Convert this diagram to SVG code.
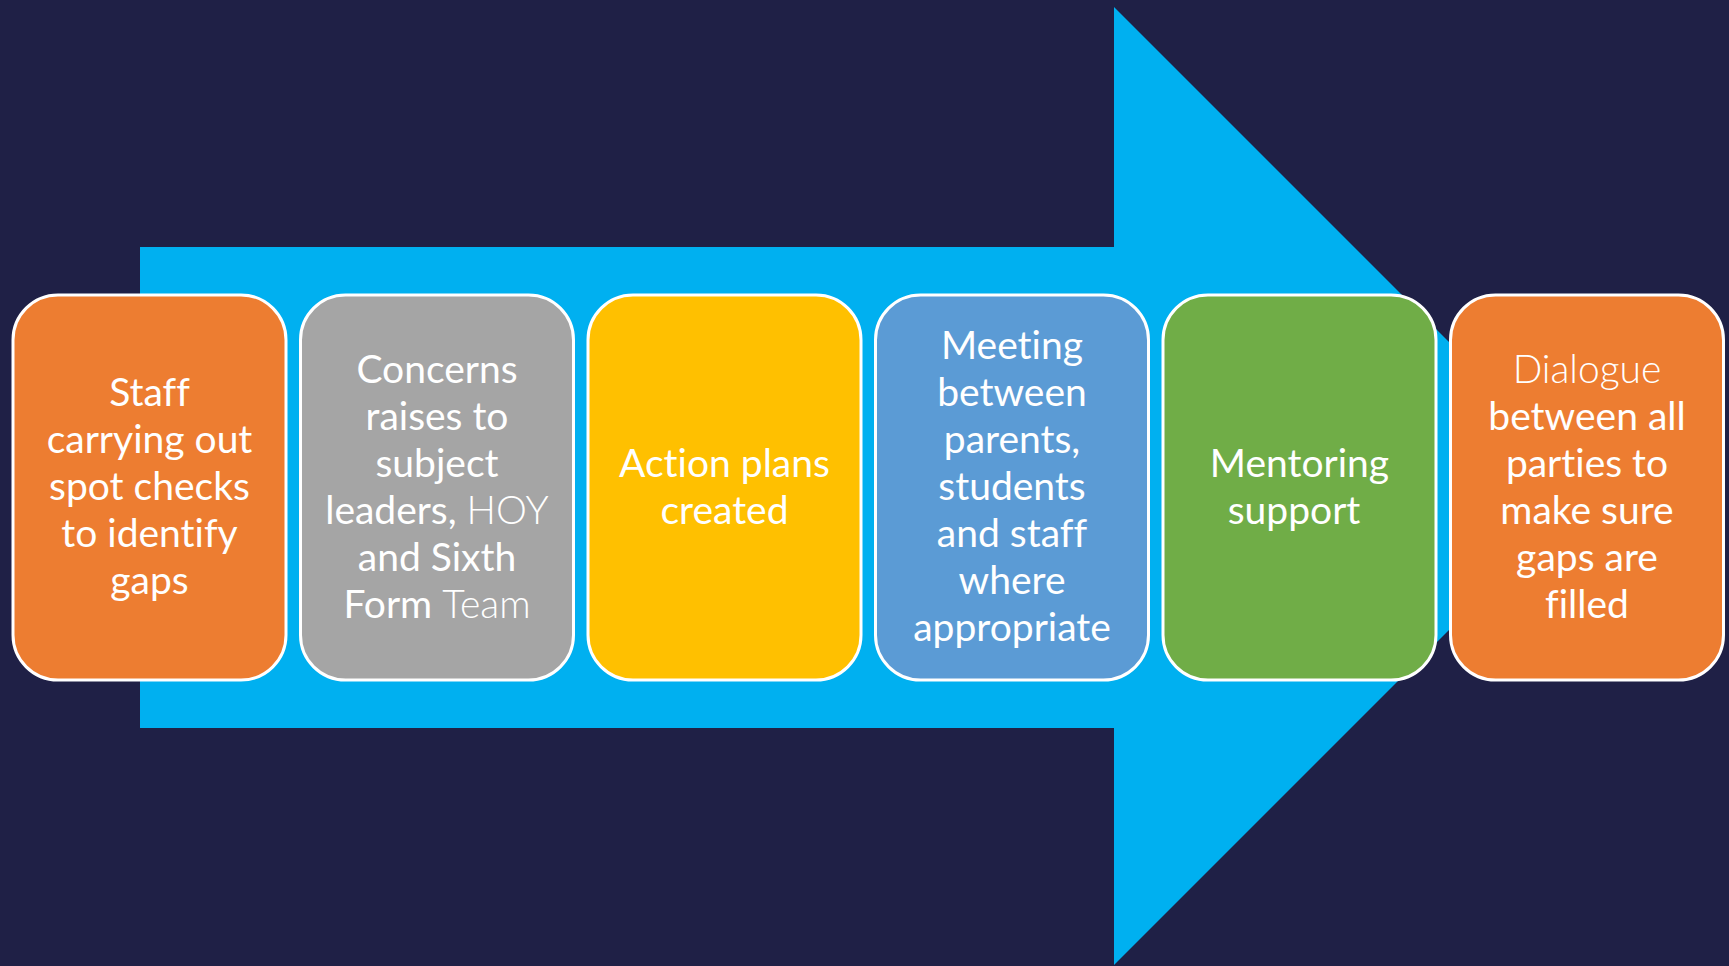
<svg xmlns="http://www.w3.org/2000/svg" width="1729" height="966" viewBox="0 0 1729 966">
<style>
.box{stroke:#FFFFFF;stroke-width:3}
.t{font-family:Lato,"Open Sans","Liberation Sans",sans-serif;font-size:39px;fill:#FFFFFF;text-anchor:middle;font-variant-ligatures:none;font-feature-settings:"liga" 0}
.l{font-weight:300}
</style>
<rect x="0" y="0" width="1729" height="966" fill="#1F2046"/>
<g id="arrow">
<polygon points="140,247 1114,247 1114,7 1593,486 1114,965 1114,728 140,728" fill="#00B0F0"/>
</g>
<g id="connectors"></g>
<g id="n1">
<rect class="box" x="13" y="295" width="273" height="385" rx="45" fill="#ED7D31"/>
<text class="t"><tspan x="149.5" y="406">Staff</tspan><tspan x="149.5" y="453">carrying out</tspan><tspan x="149.5" y="500">spot checks</tspan><tspan x="149.5" y="547">to identify</tspan><tspan x="149.5" y="594">gaps</tspan></text>
</g>
<g id="n2">
<rect class="box" x="300.5" y="295" width="273" height="385" rx="45" fill="#A5A5A5"/>
<text class="t"><tspan x="437" y="382.5">Concerns</tspan><tspan x="437" y="429.5">raises to</tspan><tspan x="437" y="476.5">subject</tspan><tspan x="437" y="523.5">leaders, <tspan class="l">HOY</tspan></tspan><tspan x="437" y="570.5">and Sixth</tspan><tspan x="437" y="617.5">Form <tspan class="l">Team</tspan></tspan></text>
</g>
<g id="n3">
<rect class="box" x="588" y="295" width="273" height="385" rx="45" fill="#FFC000"/>
<text class="t"><tspan x="724.5" y="476.5">Action plans</tspan><tspan x="724.5" y="523.5">created</tspan></text>
</g>
<g id="n4">
<rect class="box" x="875.5" y="295" width="273" height="385" rx="45" fill="#5B9BD5"/>
<text class="t"><tspan x="1012" y="359">Meeting</tspan><tspan x="1012" y="406">between</tspan><tspan x="1012" y="453">parents,</tspan><tspan x="1012" y="500">students</tspan><tspan x="1012" y="547">and staff</tspan><tspan x="1012" y="594">where</tspan><tspan x="1012" y="641">appropriate</tspan></text>
</g>
<g id="n5">
<rect class="box" x="1163" y="295" width="273" height="385" rx="45" fill="#70AD47"/>
<text class="t"><tspan x="1299.5" y="476.5">Mentoring</tspan><tspan x="1294" y="523.5">support</tspan></text>
</g>
<g id="n6">
<rect class="box" x="1450.5" y="295" width="273" height="385" rx="45" fill="#ED7D31"/>
<text class="t"><tspan x="1587" y="382.5" class="l">Dialogue</tspan><tspan x="1587" y="429.5">between all</tspan><tspan x="1587" y="476.5">parties to</tspan><tspan x="1587" y="523.5">make sure</tspan><tspan x="1587" y="570.5">gaps are</tspan><tspan x="1587" y="617.5">filled</tspan></text>
</g>
</svg>
